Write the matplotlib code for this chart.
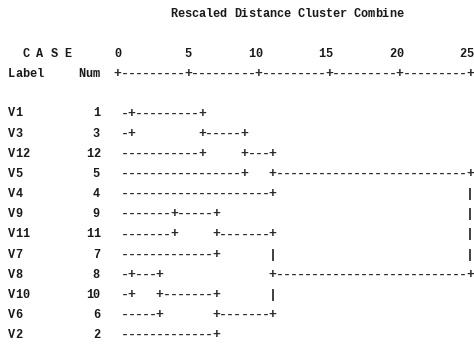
import matplotlib
matplotlib.use("Agg")
import matplotlib.pyplot as plt

# ---- data -------------------------------------------------------------
title = "Rescaled Distance Cluster Combine"
case_labels = ["V1", "V3", "V12", "V5", "V4", "V9", "V11", "V7", "V8", "V10", "V6", "V2"]
case_nums = [1, 3, 12, 5, 4, 9, 11, 7, 8, 10, 6, 2]
scale_ticks = [0, 5, 10, 15, 20, 25]
# agglomeration schedule (leaves 0..11 in display order, new clusters 12..)
merge_a = [0, 8, 13, 5, 12, 15, 14, 16, 19, 17, 20]
merge_b = [1, 9, 10, 6, 2, 7, 11, 3, 4, 18, 21]
merge_dist = [1, 1, 3, 4, 6, 7, 7, 9, 11, 11, 25]

# ---- build the SPSS style text dendrogram ------------------------------
COLS_PER_UNIT = 2
ncols = scale_ticks[-1] * COLS_PER_UNIT + 1
n = len(case_labels)
grid = [[" "] * ncols for _ in range(n)]
row_of = {i: i for i in range(n)}
start_col = {i: 1 for i in range(n)}
leaf = {i: True for i in range(n)}
new_id = n
for k, (a, b, d) in enumerate(zip(merge_a, merge_b, merge_dist)):
    c = int(round(d * COLS_PER_UNIT))
    for x in (a, b):
        r = row_of[x]
        s = start_col[x]
        first = s if leaf[x] else s + 1
        for col in range(first, c):
            grid[r][col] = "-"
        grid[r][c] = "+"
    ra, rb = sorted((row_of[a], row_of[b]))
    for rr in range(ra + 1, rb):
        grid[rr][c] = "|"
    if k < len(merge_a) - 1:
        mid = (ra + rb) // 2
        row_of[new_id] = mid
        start_col[new_id] = c
        leaf[new_id] = False
        grid[mid][c] = "+"
        new_id += 1

# ---- drawing -----------------------------------------------------------
W, H = 474, 344
fig = plt.figure(figsize=(W / 100, H / 100), dpi=100)
ax = fig.add_axes([0, 0, 1, 1])
x0_px, col_px = 117.5, 7.05     # pixel position of column 0 and column width
y0_px, row_px = 112.5, 20.15    # pixel position of first case row and row height
ax.set_xlim(-x0_px / col_px, (W - x0_px) / col_px)
ax.set_ylim((H - y0_px) / row_px, -y0_px / row_px)
ax.axis("off")

FONT = "Liberation Mono"
TEXT_COLOR = "#1a1a1a"
LINE_COLOR = "#2a2a2a"
BASE = 4.0 / row_px   # baseline offset below the row centre


def put(col, row, s):
    for i, ch in enumerate(s):
        if ch == " ":
            continue
        if ch in "-+|":
            ax.text(col + i, row + BASE, ch, ha="center", va="baseline",
                    family=FONT, fontsize=9.5, fontweight="bold",
                    color=LINE_COLOR)
        else:
            ax.text(col + i, row + BASE, ch, ha="center", va="baseline",
                    family=FONT, fontsize=8.6, fontweight="bold",
                    color=TEXT_COLOR)


# title and header rows
put(8, -4.95, title)
put(-13, -2.95, "C A S E")
for t in scale_ticks:
    lab = str(t)
    put(t * COLS_PER_UNIT - (len(lab) - 1), -2.95, lab)
put(-15, -1.95, "Label")
put(-5, -1.95, "Num")
axis_line = "".join("+" if c % (5 * COLS_PER_UNIT) == 0 else "-" for c in range(ncols))
put(0, -1.95, axis_line)

# case rows
for r, (lab, num) in enumerate(zip(case_labels, case_nums)):
    put(-15, r, lab)
    s = str(num)
    put(-2 - len(s), r, s)
    put(0, r, "".join(grid[r]))

fig.savefig("out.png", dpi=100)
